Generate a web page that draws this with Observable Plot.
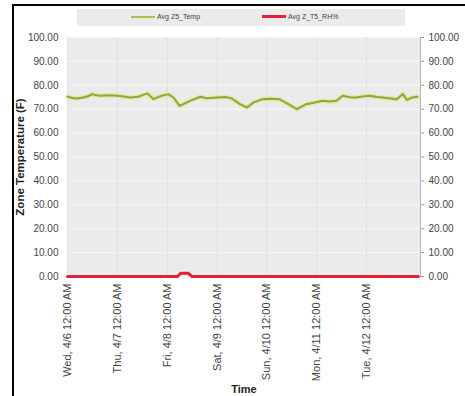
<!DOCTYPE html>
<html><head><meta charset="utf-8">
<script src="https://cdn.jsdelivr.net/npm/d3@7"></script>
<script src="https://cdn.jsdelivr.net/npm/@observablehq/plot@0.6"></script>
<style>
html,body{margin:0;padding:0;background:#fff;width:465px;height:396px;overflow:hidden;font-family:"Liberation Sans",Arial,sans-serif;}
#frame{position:absolute;left:12px;top:4px;width:470px;height:400px;border-left:2px solid #000;border-top:2px solid #000;box-sizing:border-box;}
#legend{position:absolute;left:77px;top:9px;width:328px;height:17px;background:#ebebeb;font-size:7px;color:#444;}
.li{position:absolute;top:4px;display:flex;align-items:center;white-space:nowrap;}
.sw{display:inline-block;width:24px;margin-right:2px;}
#chart{position:absolute;left:0;top:32px;}
</style></head><body>
<div id="frame"></div>
<div id="legend">
  <div class="li" style="left:54px"><span class="sw" style="border-top:2px solid #a9c24f"></span><span id="l1"></span></div>
  <div class="li" style="left:185px"><span class="sw" style="border-top:3px solid #e8213a"></span><span id="l2"></span></div>
</div>
<div id="chart"></div>
<script>
const seriesNames = ["Avg Z5_Temp", "Avg Z_T5_RH%"];
const tempTimes = ["2016-04-06T00:00","2016-04-06T02:30","2016-04-06T04:30","2016-04-06T07:30","2016-04-06T09:30","2016-04-06T12:00","2016-04-06T14:00","2016-04-06T16:00",
  "2016-04-06T20:00","2016-04-07T00:00","2016-04-07T03:00","2016-04-07T06:00","2016-04-07T10:00","2016-04-07T14:30","2016-04-07T17:30","2016-04-07T20:30",
  "2016-04-08T00:30","2016-04-08T03:00","2016-04-08T06:00","2016-04-08T11:00","2016-04-08T16:00","2016-04-08T19:00",
  "2016-04-09T00:00","2016-04-09T04:00","2016-04-09T07:00","2016-04-09T11:00","2016-04-09T14:30","2016-04-09T17:30","2016-04-09T22:00",
  "2016-04-10T02:00","2016-04-10T06:00","2016-04-10T09:30","2016-04-10T14:30","2016-04-10T19:00",
  "2016-04-10T23:00","2016-04-11T03:00","2016-04-11T06:00","2016-04-11T09:30","2016-04-11T12:30","2016-04-11T16:00","2016-04-11T19:00",
  "2016-04-11T22:00","2016-04-12T01:30","2016-04-12T04:30","2016-04-12T07:30","2016-04-12T11:00","2016-04-12T14:30","2016-04-12T17:30","2016-04-12T19:30","2016-04-12T22:00",
  "2016-04-13T00:30"];
const tempValues = [75.2,74.7,74.5,74.9,75.3,76.3,75.8,75.6,
  75.8,75.6,75.3,74.9,75.2,76.6,74.2,75.4,
  76.3,74.9,71.4,73.5,75.2,74.6,
  74.9,75.1,74.6,72.1,70.7,72.8,74.2,
  74.4,74.2,72.5,70.0,72.1,
  72.8,73.5,73.2,73.5,75.6,75.0,74.9,
  75.3,75.6,75.2,74.9,74.6,74.2,76.3,73.9,74.9,
  75.2];
const rhTimes = ["2016-04-06T00:00","2016-04-08T05:00","2016-04-08T06:30","2016-04-08T10:00","2016-04-08T12:00","2016-04-13T01:00"];
const rhValues = [0,0,1.4,1.4,0,0];
const tickDates = ["2016-04-06T00:00","2016-04-07T00:00","2016-04-08T00:00","2016-04-09T00:00","2016-04-10T00:00","2016-04-11T00:00","2016-04-12T00:00"];
const tickLabels = ["Wed, 4/6 12:00 AM","Thu, 4/7 12:00 AM","Fri, 4/8 12:00 AM","Sat, 4/9 12:00 AM","Sun, 4/10 12:00 AM","Mon, 4/11 12:00 AM","Tue, 4/12 12:00 AM"];
const yTicks = [0,10,20,30,40,50,60,70,80,90,100];

document.getElementById("l1").textContent = seriesNames[0];
document.getElementById("l2").textContent = seriesNames[1];

const parse = d3.utcParse("%Y-%m-%dT%H:%M");
const temp = tempTimes.map((t,i)=>({t:parse(t), v:tempValues[i]}));
const rh = rhTimes.map((t,i)=>({t:parse(t), v:rhValues[i]}));
const ticks = tickDates.map(parse);
const fmtY = d3.format(".2f");

const chart = Plot.plot({
  width: 465, height: 364,
  marginLeft: 67, marginRight: 45, marginTop: 5, marginBottom: 120,
  style: {fontFamily: "'Liberation Sans', Arial, sans-serif", fontSize: "8px", color: "#444", background: "transparent"},
  x: {type: "utc", domain: [parse("2016-04-06T00:00"), parse("2016-04-13T02:00")]},
  y: {domain: [0, 100]},
  marks: [
    Plot.frame({fill: "#ebebeb", stroke: "#b5b5b5"}),
    Plot.gridY(yTicks, {stroke: "#f7f7f7", strokeOpacity: 1}),
    Plot.gridX(ticks, {stroke: "#e0e0e0", strokeOpacity: 1}),
    Plot.axisY(yTicks, {anchor: "left", tickSize: 0, tickPadding: 9, tickFormat: fmtY, fontSize: 10,
      label: "Zone Temperature (F)", labelAnchor: "center", labelArrow: "none", labelOffset: 52}),
    Plot.axisY(yTicks, {anchor: "right", tickSize: 3, tickPadding: 5, tickFormat: fmtY, fontSize: 10, label: null, stroke: "#999"}),
    Plot.axisX(ticks, {anchor: "bottom", tickSize: 0, tickPadding: 7, tickRotate: -90, fontSize: 11,
      tickFormat: (d, i) => tickLabels[i], label: "Time", labelAnchor: "center", labelArrow: "none", labelOffset: 116}),
    Plot.line(temp, {x: "t", y: "v", stroke: "#dfe9a8", strokeWidth: 4.5, curve: "linear"}),
    Plot.line(temp, {x: "t", y: "v", stroke: "#8fa83a", strokeWidth: 2}),
    Plot.line(rh, {x: "t", y: "v", stroke: "#e8213a", strokeWidth: 3})
  ]
});
document.getElementById("chart").appendChild(chart);
chart.querySelectorAll("g[aria-label='y-axis label'] text").forEach(t=>{t.style.fontWeight="bold";t.style.fontSize="11.5px";t.style.fill="#222";});
chart.querySelectorAll("g[aria-label='x-axis label'] text").forEach(t=>{t.style.fontWeight="bold";t.style.fontSize="11px";t.style.fill="#222";});
</script>
</body></html>
